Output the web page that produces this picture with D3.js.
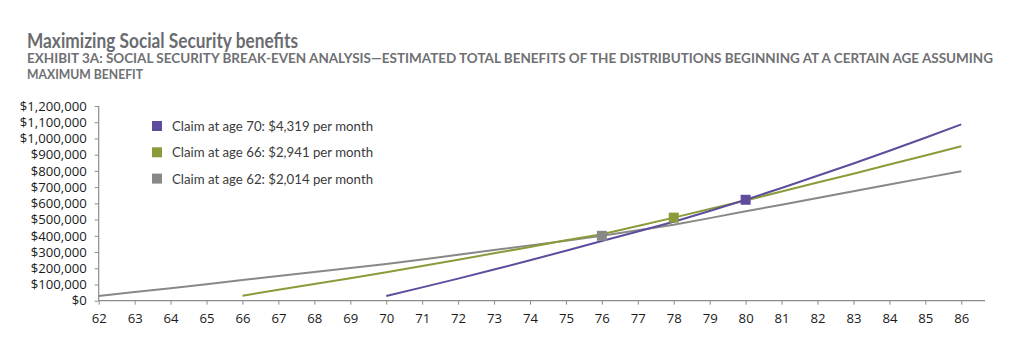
<!DOCTYPE html>
<html>
<head>
<meta charset="utf-8">
<script src="https://cdn.jsdelivr.net/npm/d3@7"></script>
<style>
  html, body { margin: 0; padding: 0; background: #ffffff; }
  svg { display: block; }
</style>
</head>
<body>
<svg id="chart" width="1024" height="355"></svg>
<script>
// ---- Data ----
const title = "Maximizing Social Security benefits";
const subtitleLines = [
  "EXHIBIT 3A: SOCIAL SECURITY BREAK-EVEN ANALYSIS\u2014ESTIMATED TOTAL BENEFITS OF THE DISTRIBUTIONS BEGINNING AT A CERTAIN AGE ASSUMING",
  "MAXIMUM BENEFIT"
];
const xTickLabels = [62,63,64,65,66,67,68,69,70,71,72,73,74,75,76,77,78,79,80,81,82,83,84,85,86];
const yTickValues = [0,100000,200000,300000,400000,500000,600000,700000,800000,900000,1000000,1100000,1200000];

const ages62 = [62,63,64,65,66,67,68,69,70,71,72,73,74,75,76,77,78,79,80,81,82,83,84,85,86];
const claim62 = [29000,53000,77000,102000,127000,152000,177000,201000,226000,254000,283000,312000,341000,370000,400000,434000,468000,509000,551000,592000,633000,674000,716000,757000,798000];

const ages66 = [66,67,68,69,70,71,72,73,74,75,76,77,78,79,80,81,82,83,84,85,86];
const claim66 = [31000,67000,103000,139000,175000,214000,253000,292000,331000,372000,410000,460000,512000,565000,618000,673000,728000,783000,839000,895000,952000];

const ages70 = [70,71,72,73,74,75,76,77,78,79,80,81,82,83,84,85,86];
const claim70 = [29000,82000,136000,192000,249000,308000,368000,427000,487000,553000,622000,695000,770000,846000,924000,1004000,1087000];

const seriesNames = ["Claim at age 70: $4,319 per month", "Claim at age 66: $2,941 per month", "Claim at age 62: $2,014 per month"];
const seriesColors = ["#5f4c9c", "#8a9b3a", "#888887"];
const markerAges = [80, 78, 76];   // break-even markers for age-70, age-66, age-62 series

// ---- Build ----
const svg = d3.select("#chart");
const series = [
  { name: seriesNames[0], color: seriesColors[0], ages: ages70, vals: claim70, marker: markerAges[0] },
  { name: seriesNames[1], color: seriesColors[1], ages: ages66, vals: claim66, marker: markerAges[1] },
  { name: seriesNames[2], color: seriesColors[2], ages: ages62, vals: claim62, marker: markerAges[2] }
];

const x = d3.scaleLinear().domain([62, 86.66]).range([98.7, 985]);
const y = d3.scaleLinear().domain([0, 1200000]).range([300.7, 106]);

const labelFont = "'Open Sans', 'Liberation Sans', sans-serif";
const headFont = "Lato, 'Open Sans', sans-serif";

// Title
svg.append("text")
  .attr("x", 27).attr("y", 48)
  .style("font-family", headFont)
  .style("font-weight", 700)
  .style("font-size", "20px")
  .attr("fill", "#6b6c6f")
  .attr("textLength", 271).attr("lengthAdjust", "spacingAndGlyphs")
  .text(title);

// Subtitle
const subLens = [966, 116];
subtitleLines.forEach((t, i) => {
  svg.append("text")
    .attr("x", 27).attr("y", 63 + i * 16)
    .style("font-family", headFont)
    .style("font-weight", 700)
    .style("font-size", "12.5px")
    .attr("fill", "#6f7073")
    .attr("textLength", subLens[i]).attr("lengthAdjust", "spacingAndGlyphs")
    .text(t);
});

// Axes
const yAxis = d3.axisLeft(y)
  .tickValues(yTickValues)
  .tickSize(4)
  .tickPadding(8)
  .tickFormat(d => "$" + d3.format(",")(d));
const gy = svg.append("g").attr("transform", "translate(98.7,0)").call(yAxis);
gy.attr("font-family", null).attr("font-size", null);
gy.select(".domain").attr("stroke", "#8c8c8c").attr("stroke-width", 1.2).attr("d", `M0,${y(1200000)}V${y(0)}`);
gy.selectAll(".tick line").attr("stroke", "#8c8c8c");
const yTexts = gy.selectAll(".tick text")
  .style("font-family", labelFont)
  .style("font-size", "13px")
  .attr("fill", "#1a1a1a");

// fit label size so that the widest label spans the same width as in the reference (~67px)
const widest = yTexts.filter(d => d === 1200000).node();
const natural = widest.getComputedTextLength();
const fitSize = natural > 0 ? 13 * 67 / natural : 13;
yTexts.style("font-size", fitSize + "px");

const xAxis = d3.axisBottom(x)
  .tickValues(xTickLabels)
  .tickSize(4)
  .tickPadding(9)
  .tickFormat(d => String(d));
const gx = svg.append("g").attr("transform", `translate(0,${y(0)})`).call(xAxis);
gx.attr("font-family", null).attr("font-size", null);
gx.select(".domain").attr("stroke", "#8c8c8c").attr("stroke-width", 1.2).attr("d", `M${x(62)},0H${x(86.66)}`);
gx.selectAll(".tick line").attr("stroke", "#8c8c8c");
gx.selectAll(".tick text")
  .style("font-family", labelFont)
  .style("font-size", fitSize + "px")
  .attr("fill", "#1a1a1a");

// Lines (draw 62 first so purple sits on top)
const line = d3.line().x(d => x(d[0])).y(d => y(d[1]));
series.slice().reverse().forEach(s => {
  const pts = s.ages.map((a, i) => [a, s.vals[i]]);
  svg.append("path")
    .attr("d", line(pts))
    .attr("fill", "none")
    .attr("stroke", s.color)
    .attr("stroke-width", 2)
    .attr("stroke-linejoin", "round");
});

// Markers
series.slice().reverse().forEach(s => {
  const idx = s.ages.indexOf(s.marker);
  const v = s.vals[idx];
  svg.append("rect")
    .attr("x", x(s.marker) - 5).attr("y", y(v) - 5)
    .attr("width", 10).attr("height", 10)
    .attr("fill", s.color);
});

// Legend
const legend = svg.append("g");
series.forEach((s, i) => {
  const cy = 126 + i * 26.3;
  legend.append("rect")
    .attr("x", 152).attr("y", cy - 5)
    .attr("width", 10).attr("height", 10)
    .attr("fill", s.color);
  legend.append("text")
    .attr("x", 172).attr("y", cy + 5)
    .style("font-family", headFont)
    .style("font-size", "14px")
    .attr("fill", "#3a3a3a")
    .attr("textLength", 201).attr("lengthAdjust", "spacingAndGlyphs")
    .text(s.name);
});
</script>
</body>
</html>
